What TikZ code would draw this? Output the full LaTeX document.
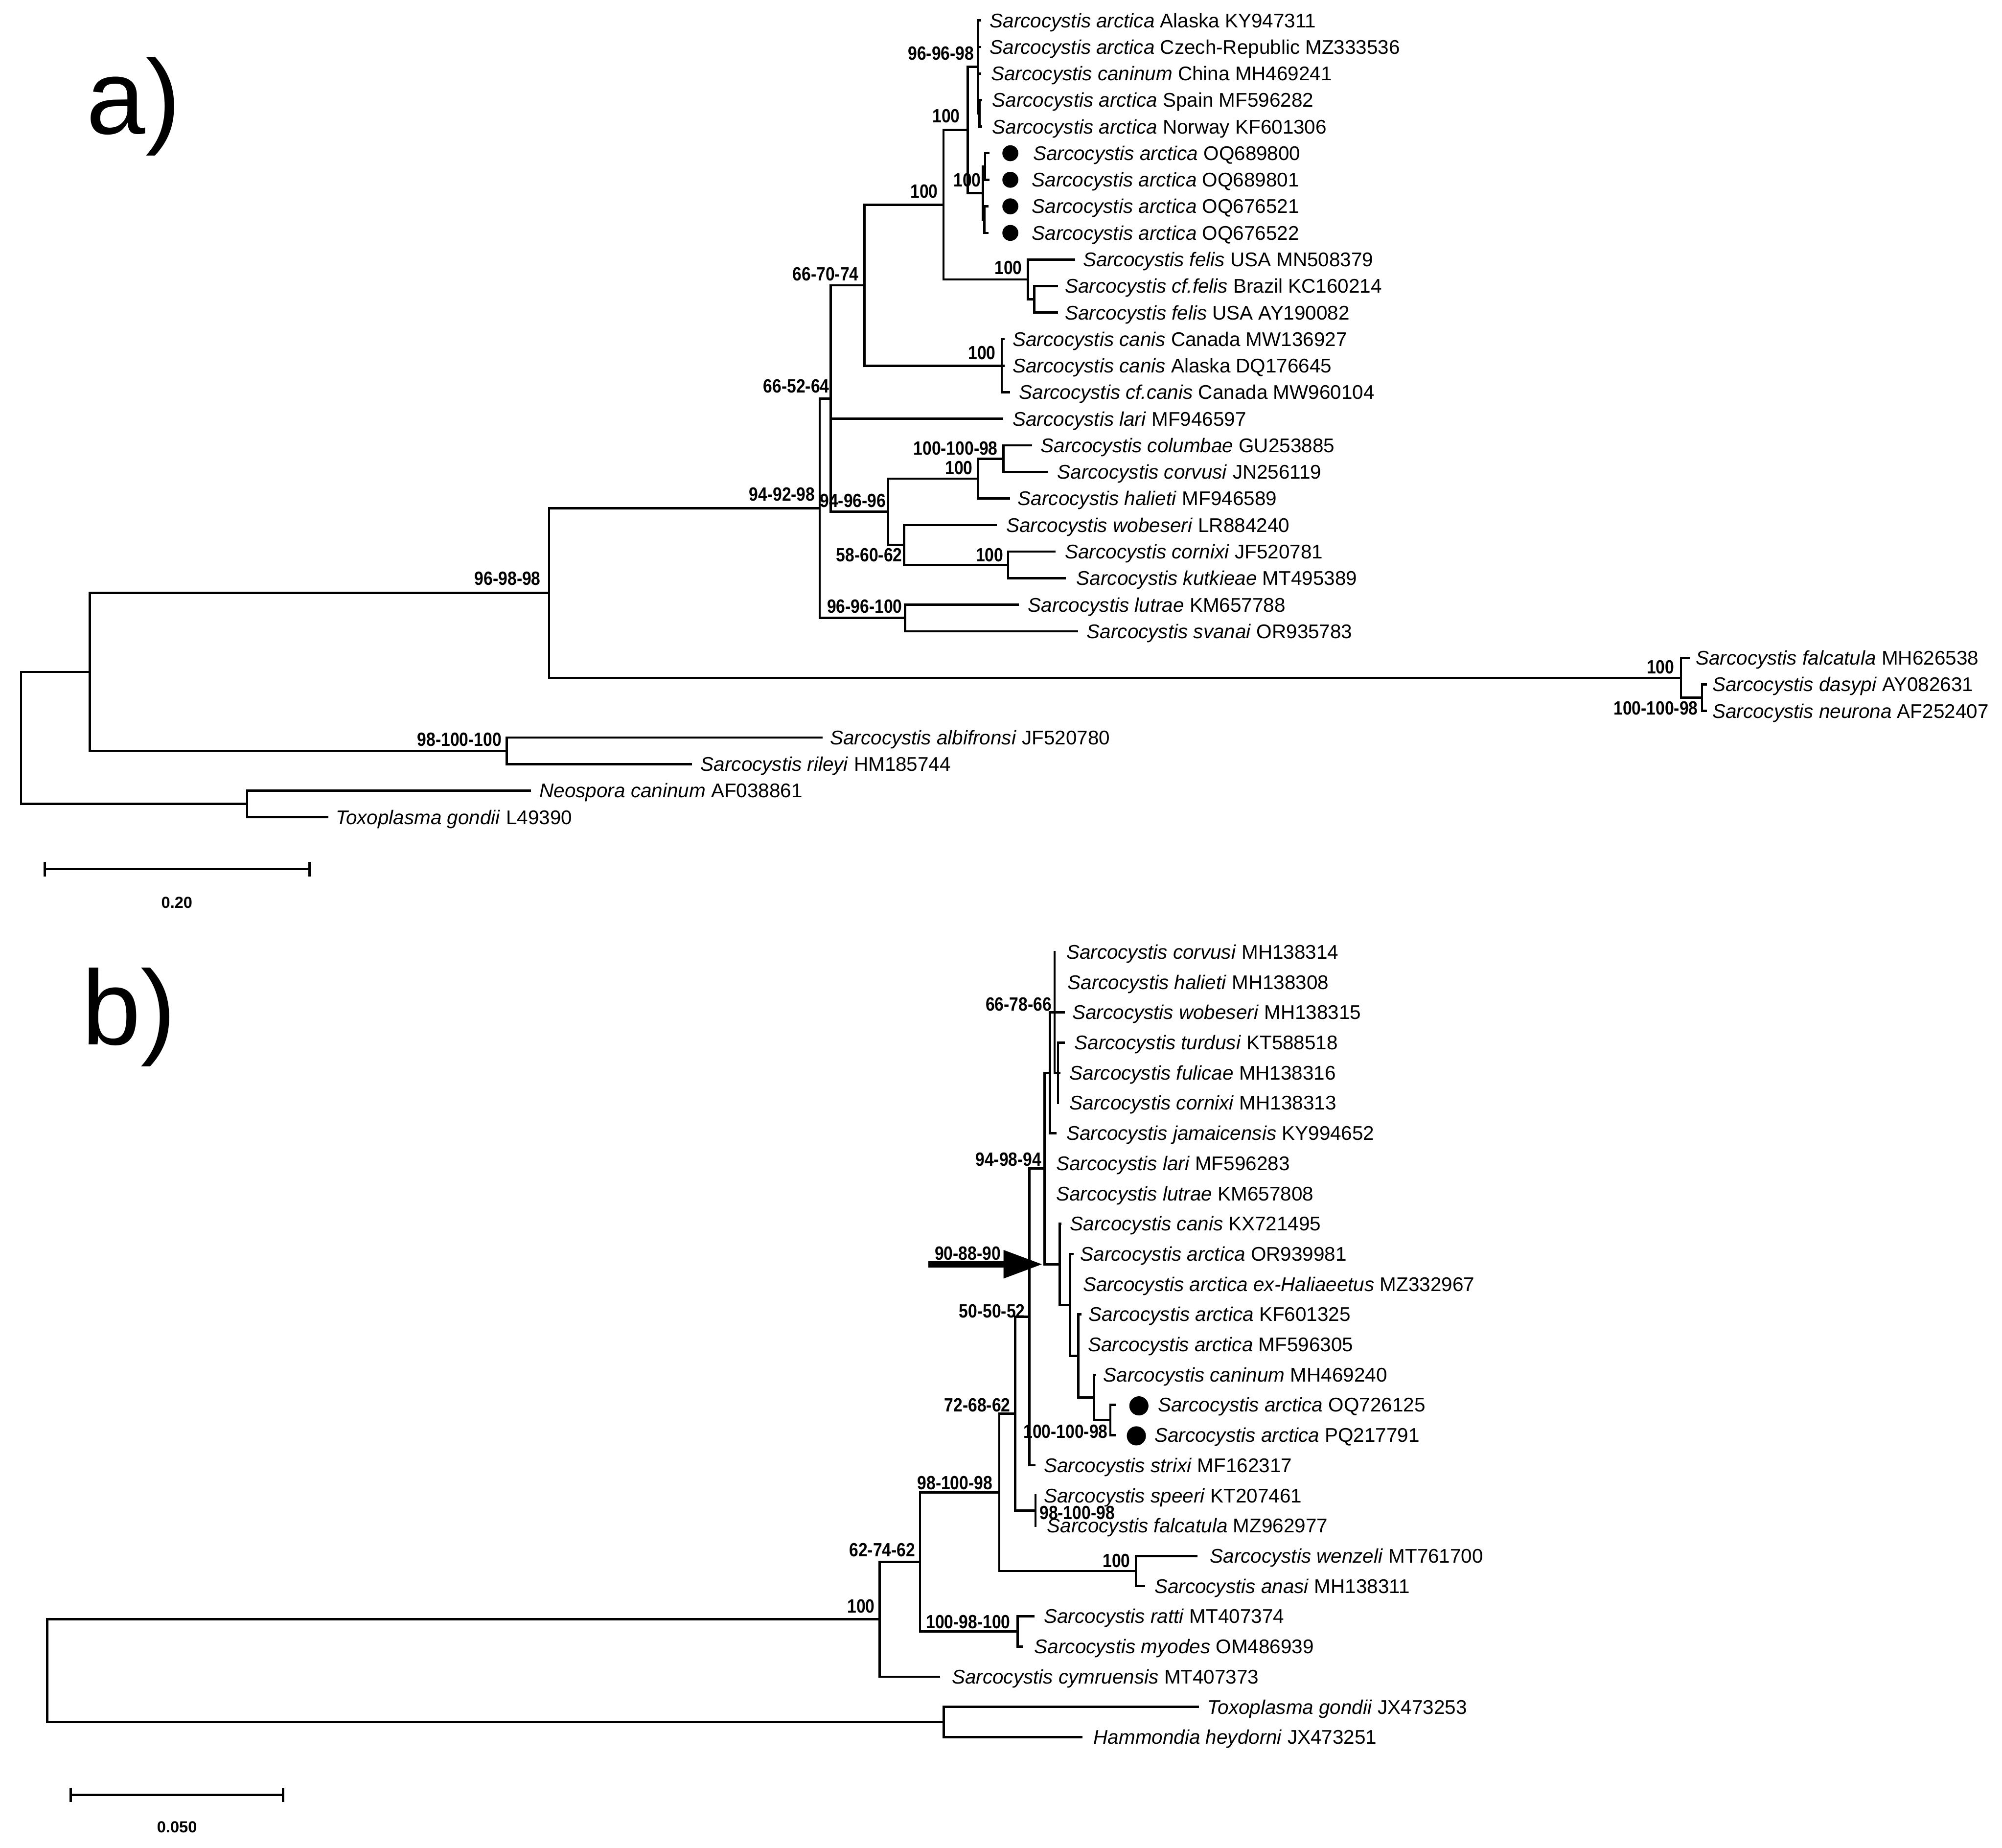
\documentclass[tikz,border=0pt]{standalone}
\usepackage{fontspec}
\setmainfont{Liberation Sans}
\newcommand\nb[1]{\scalebox{0.86}[1]{#1}}
\begin{document}
\begin{tikzpicture}[x=1pt,y=-1pt,
  br/.style={line width=1.8pt,line cap=rect},
  lf/.style={anchor=west,inner sep=0pt,text height=11.2pt,text depth=0.2pt,font=\fontsize{15.5}{18}\selectfont},
  bs/.style={anchor=east,inner sep=0pt,text height=10.8pt,text depth=0pt,font=\fontsize{15}{18}\selectfont\bfseries},
  bsw/.style={bs,anchor=west},
  dota/.style={circle,fill=black,inner sep=0pt,minimum size=12.5pt},
  dotb/.style={circle,fill=black,inner sep=0pt,minimum size=15pt},
  sc/.style={font=\fontsize{12.5}{14}\selectfont\bfseries,inner sep=0pt},
  pl/.style={anchor=base west,inner sep=0pt,font=\fontsize{83}{90}\selectfont}]
\useasboundingbox (0,0) rectangle (1568,1447);

% ---------------- panel a ----------------
\node[pl] (pa) at (67.5,105) {a)};
% leaf tips
\coordinate (a1) at (767.5,16.0);
\coordinate (a2) at (767.5,36.8);
\coordinate (a3) at (767.5,57.6);
\coordinate (a4) at (768.5,78.4);
\coordinate (a5) at (768.5,99.2);
\coordinate (a6) at (774,120.0);
\coordinate (a7) at (774,140.8);
\coordinate (a8) at (773.5,161.6);
\coordinate (a9) at (773.5,182.4);
\coordinate (a10) at (841,203.2);
\coordinate (a11) at (827.6,224.0);
\coordinate (a12) at (827.6,244.8);
\coordinate (a13) at (786,265.6);
\coordinate (a14) at (786,286.4);
\coordinate (a15) at (790,307.2);
\coordinate (a16) at (785,328.0);
\coordinate (a17) at (807.6,348.8);
\coordinate (a18) at (819.7,369.6);
\coordinate (a19) at (790,390.4);
\coordinate (a20) at (780,411.2);
\coordinate (a21) at (826,432.0);
\coordinate (a22) at (834,452.8);
\coordinate (a23) at (797,473.6);
\coordinate (a24) at (843.6,494.4);
\coordinate (a25) at (1322.7,515.2);
\coordinate (a26) at (1336,536.0);
\coordinate (a27) at (1336,556.8);
\coordinate (a28) at (643.5,577.6);
\coordinate (a29) at (541,598.4);
\coordinate (a30) at (414.8,619.2);
\coordinate (a31) at (256.4,640.0);
% internal nodes
\coordinate (aA2) at (767,88.8);
\coordinate (aA) at (765.8,52.4);
\coordinate (aC1) at (771.5,130.4);
\coordinate (aC2) at (771,172.0);
\coordinate (aC) at (769.7,151.2);
\coordinate (aB) at (757.8,101.8);
\coordinate (aH) at (810,234.4);
\coordinate (aG) at (805,218.8);
\coordinate (aD) at (739,160.3);
\coordinate (aF) at (784.6,286.4);
\coordinate (aE) at (677,223.4);
\coordinate (aT) at (785.8,359.2);
\coordinate (aS) at (765.8,374.8);
\coordinate (aV) at (789.6,442.4);
\coordinate (aU) at (708,426.8);
\coordinate (aR) at (695.6,400.8);
\coordinate (aQ) at (650.5,312.1);
\coordinate (aW) at (709,484.0);
\coordinate (aP) at (642,398.0);
\coordinate (aZ2) at (1333,546.4);
\coordinate (aZ) at (1316.6,530.8);
\coordinate (aY) at (430,464.4);
\coordinate (aAlb) at (397,588.0);
\coordinate (aX) at (70.4,526.2);
\coordinate (aNT) at (193.6,629.6);
\coordinate (aRoot) at (16.5,578.0);

\foreach \p/\c in {aRoot/aX,aRoot/aNT,aX/aY,aX/aAlb,aY/aP,aY/aZ,aP/aQ,aP/aW,
  aQ/aE,aQ/a16,aQ/aR,aE/aD,aE/aF,aD/aB,aD/aG,aB/aA,aB/aC,
  aA/a1,aA/a2,aA/a3,aA/aA2,aA2/a4,aA2/a5,aC/aC1,aC/aC2,aC1/a6,aC1/a7,aC2/a8,aC2/a9,
  aG/a10,aG/aH,aH/a11,aH/a12,aF/a13,aF/a14,aF/a15,aR/aS,aR/aU,aS/aT,aS/a19,aT/a17,aT/a18,
  aU/a20,aU/aV,aV/a21,aV/a22,aW/a23,aW/a24,aZ/a25,aZ/aZ2,aZ2/a26,aZ2/a27,
  aAlb/a28,aAlb/a29,aNT/a30,aNT/a31}
  \draw[br] (\p) |- (\c);

% leaf labels a
\node[lf] (La1) at (775,16.0) {\textit{Sarcocystis arctica} Alaska KY947311};
\node[lf] (La2) at (775,36.8) {\textit{Sarcocystis arctica} Czech-Republic MZ333536};
\node[lf] (La3) at (776,57.6) {\textit{Sarcocystis caninum} China MH469241};
\node[lf] (La4) at (777,78.4) {\textit{Sarcocystis arctica} Spain MF596282};
\node[lf] (La5) at (777,99.2) {\textit{Sarcocystis arctica} Norway KF601306};
\node[lf] (La6) at (809,120.0) {\textit{Sarcocystis arctica} OQ689800};
\node[lf] (La7) at (808,140.8) {\textit{Sarcocystis arctica} OQ689801};
\node[lf] (La8) at (808,161.6) {\textit{Sarcocystis arctica} OQ676521};
\node[lf] (La9) at (808,182.4) {\textit{Sarcocystis arctica} OQ676522};
\node[lf] (La10) at (848,203.2) {\textit{Sarcocystis felis} USA MN508379};
\node[lf] (La11) at (834,224.0) {\textit{Sarcocystis cf.felis} Brazil KC160214};
\node[lf] (La12) at (834,244.8) {\textit{Sarcocystis felis} USA AY190082};
\node[lf] (La13) at (793,265.6) {\textit{Sarcocystis canis} Canada MW136927};
\node[lf] (La14) at (793,286.4) {\textit{Sarcocystis canis} Alaska DQ176645};
\node[lf] (La15) at (798,307.2) {\textit{Sarcocystis cf.canis} Canada MW960104};
\node[lf] (La16) at (793,328.0) {\textit{Sarcocystis lari} MF946597};
\node[lf] (La17) at (815,348.8) {\textit{Sarcocystis columbae} GU253885};
\node[lf] (La18) at (828,369.6) {\textit{Sarcocystis corvusi} JN256119};
\node[lf] (La19) at (797,390.4) {\textit{Sarcocystis halieti} MF946589};
\node[lf] (La20) at (788,411.2) {\textit{Sarcocystis wobeseri} LR884240};
\node[lf] (La21) at (834,432.0) {\textit{Sarcocystis cornixi} JF520781};
\node[lf] (La22) at (843,452.8) {\textit{Sarcocystis kutkieae} MT495389};
\node[lf] (La23) at (805,473.6) {\textit{Sarcocystis lutrae} KM657788};
\node[lf] (La24) at (851,494.4) {\textit{Sarcocystis svanai} OR935783};
\node[lf] (La25) at (1328,515.2) {\textit{Sarcocystis falcatula} MH626538};
\node[lf] (La26) at (1341,536.0) {\textit{Sarcocystis dasypi} AY082631};
\node[lf] (La27) at (1341,556.8) {\textit{Sarcocystis neurona} AF252407};
\node[lf] (La28) at (650,577.6) {\textit{Sarcocystis albifronsi} JF520780};
\node[lf] (La29) at (548.6,598.4) {\textit{Sarcocystis rileyi} HM185744};
\node[lf] (La30) at (422.4,619.2) {\textit{Neospora caninum} AF038861};
\node[lf] (La31) at (262.8,640.0) {\textit{Toxoplasma gondii} L49390};
% dots a
\node[dota] (Da6) at (791.3,120.0) {};
\node[dota] (Da7) at (791.3,140.8) {};
\node[dota] (Da8) at (791.3,161.6) {};
\node[dota] (Da9) at (791.3,182.4) {};
% bootstrap a
\node[bs] (ba1) at (763,41.5) {\nb{96-96-98}};
\node[bs] (ba2) at (752,90.7) {\nb{100}};
\node[bs] (ba3) at (768.5,141) {\nb{100}};
\node[bs] (ba4) at (734.8,149.5) {\nb{100}};
\node[bs] (ba5) at (672.7,214.6) {\nb{66-70-74}};
\node[bs] (ba6) at (800.7,209.6) {\nb{100}};
\node[bs] (ba7) at (780,276) {\nb{100}};
\node[bs] (ba8) at (649.7,302) {\nb{66-52-64}};
\node[bs] (ba9) at (781.6,351) {\nb{100-100-98}};
\node[bs] (ba10) at (762,366) {\nb{100}};
\node[bs] (ba11) at (694,392) {\nb{94-96-96}};
\node[bs] (ba12) at (638.5,387) {\nb{94-92-98}};
\node[bs] (ba13) at (706.8,434.3) {\nb{58-60-62}};
\node[bs] (ba14) at (786,434.3) {\nb{100}};
\node[bs] (ba15) at (706.8,474.6) {\nb{96-96-100}};
\node[bs] (ba16) at (423.6,453) {\nb{96-98-98}};
\node[bs] (ba17) at (1311.5,522) {\nb{100}};
\node[bs] (ba18) at (1330,554.5) {\nb{100-100-98}};
\node[bs] (ba19) at (393,579) {\nb{98-100-100}};
% scale a
\coordinate (sa1) at (35.2,680.7);
\coordinate (sa2) at (242.3,680.7);
\coordinate (sa1t) at (35.2,676);
\coordinate (sa1b) at (35.2,685.4);
\coordinate (sa2t) at (242.3,676);
\coordinate (sa2b) at (242.3,685.4);
\draw[br] (sa1) -- (sa2);
\draw[br] (sa1t) -- (sa1b);
\draw[br] (sa2t) -- (sa2b);
\node[sc] (sla) at (138.5,706.7) {0.20};

% ---------------- panel b ----------------
\node[pl] (pb) at (64,818) {b)};
\coordinate (b1) at (826,745.5);
\coordinate (b2) at (826,769.15);
\coordinate (b3) at (833,792.8);
\coordinate (b4) at (833,816.45);
\coordinate (b5) at (829.5,840.1);
\coordinate (b6) at (828.6,863.75);
\coordinate (b7) at (826.7,887.4);
\coordinate (b8) at (818,911.05);
\coordinate (b9) at (818,934.7);
\coordinate (b10) at (830.5,958.35);
\coordinate (b11) at (840,982.0);
\coordinate (b12) at (838,1005.65);
\coordinate (b13) at (846,1029.3);
\coordinate (b14) at (844.5,1052.95);
\coordinate (b15) at (857.5,1076.6);
\coordinate (b16) at (873,1100.25);
\coordinate (b17) at (873,1123.9);
\coordinate (b18) at (810,1147.55);
\coordinate (b19) at (811,1171.2);
\coordinate (b20) at (811,1194.85);
\coordinate (b21) at (936.8,1218.5);
\coordinate (b22) at (896,1242.15);
\coordinate (b23) at (809.3,1265.8);
\coordinate (b24) at (800,1289.45);
\coordinate (b25) at (735.4,1313.1);
\coordinate (b26) at (938,1336.75);
\coordinate (b27) at (847,1360.4);
% internal b
\coordinate (bTurd) at (828.6,840.1);
\coordinate (bN2) at (826,792.8);
\coordinate (bTop) at (822.2,840.1);
\coordinate (bC3) at (857,1094.35);
\coordinate (bOQ) at (869.6,1112.1);
\coordinate (bC2) at (844.5,1061.8);
\coordinate (bC1) at (838,1021.9);
\coordinate (bN90) at (830,990.1);
\coordinate (bN94) at (818,915.1);
\coordinate (bN50) at (806.3,1031.3);
\coordinate (bNsp) at (811,1183.0);
\coordinate (bN72) at (795,1107.2);
\coordinate (bNwen) at (889.6,1230.3);
\coordinate (bN98) at (782.7,1168.8);
\coordinate (bNrat) at (797,1277.6);
\coordinate (bN62) at (720.6,1223.2);
\coordinate (bN100) at (689,1268.2);
\coordinate (bNtox) at (739.2,1348.6);
\coordinate (bRoot) at (37,1308.4);

\foreach \p/\c in {bRoot/bN100,bRoot/bNtox,bN100/bN62,bN100/b25,bN62/bN98,bN62/bNrat,
  bNrat/b23,bNrat/b24,bN98/bN72,bN98/bNwen,bNwen/b21,bNwen/b22,bN72/bN50,bN72/bNsp,
  bNsp/b19,bNsp/b20,bN50/bN94,bN50/b18,bN94/bTop,bN94/b8,bN94/b9,bN94/bN90,
  bTop/bN2,bTop/b7,bN2/b1,bN2/b2,bN2/b3,bN2/bTurd,bTurd/b4,bTurd/b5,bTurd/b6,
  bN90/b10,bN90/bC1,bC1/b11,bC1/b12,bC1/bC2,bC2/b13,bC2/b14,bC2/bC3,bC3/b15,bC3/bOQ,
  bOQ/b16,bOQ/b17,bNtox/b26,bNtox/b27}
  \draw[br] (\p) |- (\c);

% leaf labels b
\node[lf] (Lb1) at (835,745.5) {\textit{Sarcocystis corvusi} MH138314};
\node[lf] (Lb2) at (836,769.15) {\textit{Sarcocystis halieti} MH138308};
\node[lf] (Lb3) at (839.7,792.8) {\textit{Sarcocystis wobeseri} MH138315};
\node[lf] (Lb4) at (841.4,816.45) {\textit{Sarcocystis turdusi} KT588518};
\node[lf] (Lb5) at (837.6,840.1) {\textit{Sarcocystis fulicae} MH138316};
\node[lf] (Lb6) at (837.6,863.75) {\textit{Sarcocystis cornixi} MH138313};
\node[lf] (Lb7) at (835,887.4) {\textit{Sarcocystis jamaicensis} KY994652};
\node[lf] (Lb8) at (827,911.05) {\textit{Sarcocystis lari} MF596283};
\node[lf] (Lb9) at (827,934.7) {\textit{Sarcocystis lutrae} KM657808};
\node[lf] (Lb10) at (838,958.35) {\textit{Sarcocystis canis} KX721495};
\node[lf] (Lb11) at (846,982.0) {\textit{Sarcocystis arctica} OR939981};
\node[lf] (Lb12) at (848,1005.65) {\textit{Sarcocystis arctica ex-Haliaeetus} MZ332967};
\node[lf] (Lb13) at (852.5,1029.3) {\textit{Sarcocystis arctica} KF601325};
\node[lf] (Lb14) at (852,1052.95) {\textit{Sarcocystis arctica} MF596305};
\node[lf] (Lb15) at (864,1076.6) {\textit{Sarcocystis caninum} MH469240};
\node[lf] (Lb16) at (906.8,1100.25) {\textit{Sarcocystis arctica} OQ726125};
\node[lf] (Lb17) at (904,1123.9) {\textit{Sarcocystis arctica} PQ217791};
\node[lf] (Lb18) at (817.5,1147.55) {\textit{Sarcocystis strixi} MF162317};
\node[lf] (Lb19) at (817.5,1171.2) {\textit{Sarcocystis speeri} KT207461};
\node[lf] (Lb20) at (820,1194.85) {\textit{Sarcocystis falcatula} MZ962977};
\node[lf] (Lb21) at (947.5,1218.5) {\textit{Sarcocystis wenzeli} MT761700};
\node[lf] (Lb22) at (904,1242.15) {\textit{Sarcocystis anasi} MH138311};
\node[lf] (Lb23) at (817.5,1265.8) {\textit{Sarcocystis ratti} MT407374};
\node[lf] (Lb24) at (810,1289.45) {\textit{Sarcocystis myodes} OM486939};
\node[lf] (Lb25) at (745.4,1313.1) {\textit{Sarcocystis cymruensis} MT407373};
\node[lf] (Lb26) at (945.6,1336.75) {\textit{Toxoplasma gondii} JX473253};
\node[lf] (Lb27) at (856.3,1360.4) {\textit{Hammondia heydorni} JX473251};
% dots b
\node[dotb] (Db16) at (892,1101) {};
\node[dotb] (Db17) at (890,1124.5) {};
% bootstrap b
\node[bs] (bb1) at (823.8,786.4) {\nb{66-78-66}};
\node[bs] (bb2) at (815.9,907.7) {\nb{94-98-94}};
\node[bs] (bb3) at (784,981.2) {\nb{90-88-90}};
\node[bs] (bb4) at (803,1026.6) {\nb{50-50-52}};
\node[bs] (bb5) at (791.5,1100) {\nb{72-68-62}};
\node[bs] (bb6) at (867.8,1121) {\nb{100-100-98}};
\node[bs] (bb7) at (777.5,1161) {\nb{98-100-98}};
\node[bsw] (bb8) at (814,1184.4) {\nb{98-100-98}};
\node[bs] (bb9) at (885.4,1222) {\nb{100}};
\node[bs] (bb10) at (717,1213.8) {\nb{62-74-62}};
\node[bs] (bb11) at (791.5,1270) {\nb{100-98-100}};
\node[bs] (bb12) at (685.3,1257.8) {\nb{100}};
% arrow
\coordinate (arS) at (727,990.1);
\coordinate (arB) at (786,990.1);
\coordinate (arT) at (816,990.1);
\coordinate (arU) at (786,978.9);
\coordinate (arL) at (786,1001.3);
\draw[line width=5pt] (arS) -- (arB);
\fill (arT) -- (arU) -- (arL) -- cycle;
% scale b
\coordinate (sb1) at (55.4,1405.6);
\coordinate (sb2) at (221.8,1405.6);
\coordinate (sb1t) at (55.4,1400.9);
\coordinate (sb1b) at (55.4,1410.3);
\coordinate (sb2t) at (221.8,1400.9);
\coordinate (sb2b) at (221.8,1410.3);
\draw[br] (sb1) -- (sb2);
\draw[br] (sb1t) -- (sb1b);
\draw[br] (sb2t) -- (sb2b);
\node[sc] (slb) at (138.6,1431) {0.050};
\end{tikzpicture}
\end{document}
